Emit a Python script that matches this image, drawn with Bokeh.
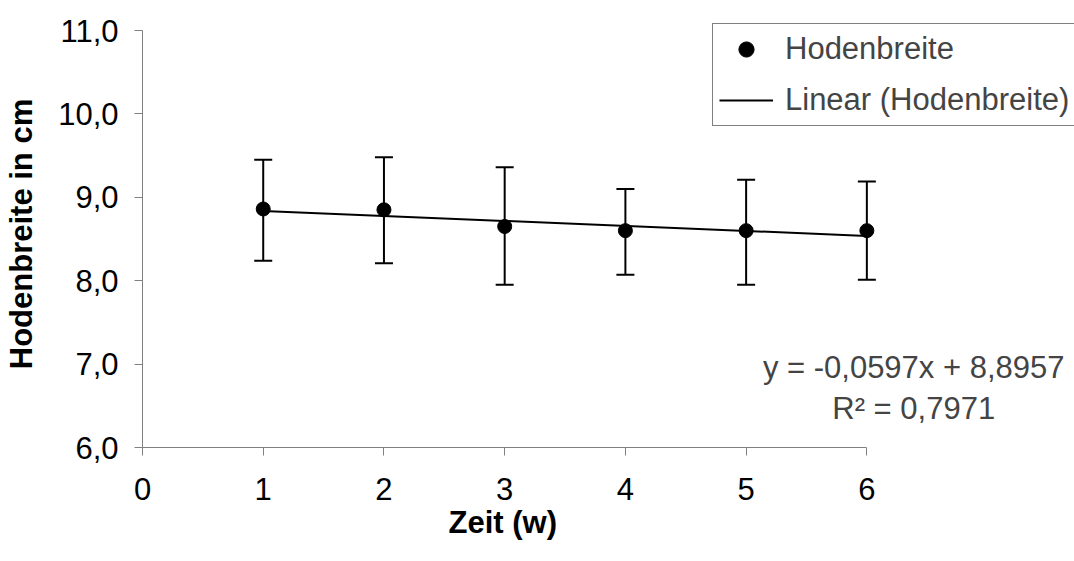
from bokeh.plotting import figure
from bokeh.models import (ColumnDataSource, Whisker, TeeHead, Legend, LegendItem, Label,
                          Title, LinearAxis, FixedTicker)
from bokeh.embed import file_html
from bokeh.resources import INLINE

# ---- data ----
weeks = [1, 2, 3, 4, 5, 6]
breite = [8.86, 8.85, 8.65, 8.60, 8.60, 8.60]
upper = [9.45, 9.48, 9.36, 9.10, 9.21, 9.19]
lower = [8.24, 8.21, 7.95, 8.07, 7.95, 8.01]
slope = -0.0597
intercept = 8.8957
r_squared = 0.7971
x_ticks = [0, 1, 2, 3, 4, 5, 6]
y_ticks = [6, 7, 8, 9, 10, 11]

FONT = "Liberation Sans"
FS = "31px"

def de(v, nd):
    return f"{v:.{nd}f}".replace(".", ",")

p = figure(width=1074, height=561, x_range=(0, 7.72), y_range=(6, 11.12),
           output_backend="svg", toolbar_location=None,
           min_border_left=142, min_border_right=0,
           min_border_top=20, min_border_bottom=114)
p.outline_line_color = None
p.xgrid.visible = False
p.ygrid.visible = False

src = ColumnDataSource(dict(x=weeks, y=breite, upper=upper, lower=lower))

wh = Whisker(source=src, base="x", upper="upper", lower="lower",
             line_color="black", line_width=2,
             upper_head=TeeHead(size=18, line_color="black", line_width=2),
             lower_head=TeeHead(size=18, line_color="black", line_width=2))
p.add_layout(wh)

trend_x = [weeks[0], weeks[-1]]
trend_y = [slope * x + intercept for x in trend_x]
tl = p.line(trend_x, trend_y, line_color="black", line_width=2)
sc = p.scatter("x", "y", source=src, size=14, fill_color="black", line_color="black")

# axes
for ax in (p.xaxis[0], p.yaxis[0]):
    ax.axis_line_color = "#808080"
    ax.major_tick_line_color = "#808080"
    ax.minor_tick_line_color = None
    ax.major_tick_in = 0
    ax.major_tick_out = 8
    ax.minor_tick_out = 0
    ax.major_label_text_font = FONT
    ax.major_label_text_font_size = FS
    ax.major_label_text_color = "black"
    ax.axis_label_text_font = FONT
    ax.axis_label_text_font_size = FS
    ax.axis_label_text_font_style = "bold"
    ax.axis_label_text_color = "black"

p.xaxis.ticker = x_ticks
p.xaxis.bounds = (x_ticks[0], x_ticks[-1])
p.yaxis.ticker = y_ticks
p.yaxis.bounds = (y_ticks[0], y_ticks[-1])
p.yaxis.major_label_overrides = {v: de(v, 1) for v in y_ticks}
p.xaxis.major_label_standoff = 22
p.yaxis.major_label_standoff = 16
p.yaxis.axis_label = "Hodenbreite in cm"
p.yaxis.axis_label_standoff = 16

# empty axis (no ticks, no line, no text) used only as vertical spacing
gap = LinearAxis(ticker=FixedTicker(ticks=[]), major_tick_out=19, major_tick_in=0,
                 minor_tick_out=0, minor_tick_in=0,
                 axis_line_color=None, major_tick_line_color=None,
                 minor_tick_line_color=None)
p.add_layout(gap, "below")

xtitle = Title(text="Zeit (w)", align="left", offset=306, standoff=0,
               vertical_align="bottom",
               text_font=FONT, text_font_size=FS, text_font_style="bold",
               text_color="black")
p.add_layout(xtitle, "below")

legend = Legend(items=[LegendItem(label="Hodenbreite", renderers=[sc]),
                       LegendItem(label="Linear (Hodenbreite)", renderers=[tl])],
                location=(570, 321), margin=0, padding=6, spacing=13,
                glyph_width=54, glyph_height=38, label_height=38,
                label_standoff=12,
                label_text_font=FONT, label_text_font_size=FS,
                border_line_color="black", border_line_width=1,
                background_fill_color="white", background_fill_alpha=1)
p.add_layout(legend, "center")

eq1 = Label(x=6.388, y=6.96, text=f"y = {de(slope, 4)}x + {de(intercept, 4)}",
            text_align="center", text_baseline="middle",
            text_font=FONT, text_font_size=FS)
eq2 = Label(x=6.388, y=6.47, text=f"R\u00b2 = {de(r_squared, 4)}",
            text_align="center", text_baseline="middle",
            text_font=FONT, text_font_size=FS)
p.add_layout(eq1)
p.add_layout(eq2)

open("out.html", "w").write(file_html(p, INLINE))
